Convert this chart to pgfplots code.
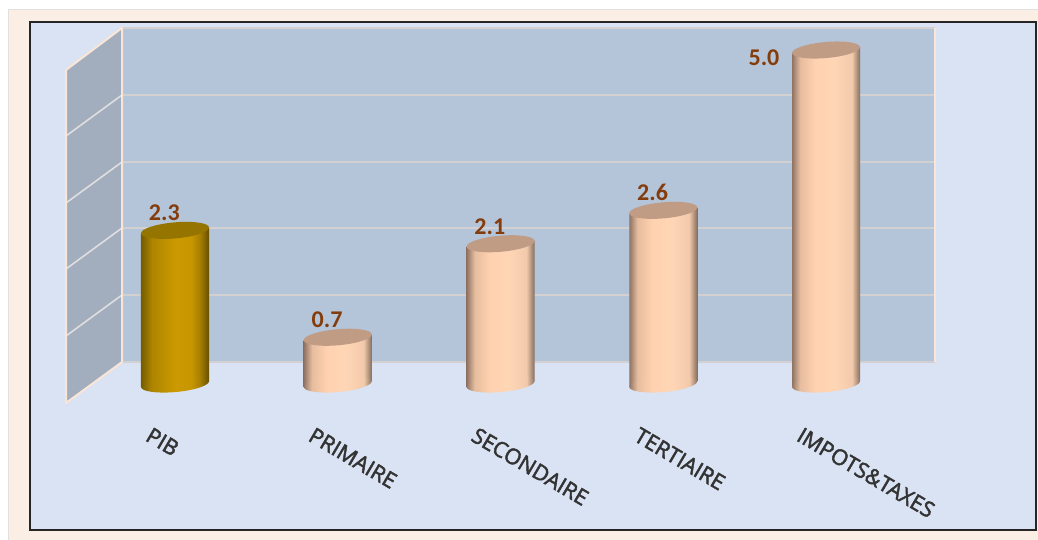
\documentclass[border=0pt]{standalone}
\usepackage{pgfplots}
\pgfplotsset{compat=1.18}
\usepackage{fontspec}
\setmainfont{Carlito}
\newfontfamily\catfont[RawFeature={embolden=2.2}]{Open Sans}
\definecolor{cream}{HTML}{FBEEE4}
\definecolor{panel}{HTML}{DAE3F3}
\definecolor{backwall}{HTML}{B4C4D9}
\definecolor{sidewall}{HTML}{A2ADBD}
\definecolor{wallline}{HTML}{FBE5D6}
\definecolor{gridgrey}{HTML}{D3D0D2}
\definecolor{valuebrown}{HTML}{843C0C}
\definecolor{peachtop}{HTML}{C19C84}
\definecolor{goldtop}{HTML}{957500}

% the path's width is fitted to 25bp..75bp of the shading
\pgfdeclarehorizontalshading{cylpeach}{100bp}{
  rgb(0bp)=(0.56,0.45,0.39);
  rgb(25bp)=(0.56,0.45,0.39);
  rgb(31bp)=(0.90,0.74,0.62);
  rgb(42bp)=(1.0,0.82,0.69);
  rgb(56bp)=(1.0,0.84,0.71);
  rgb(69bp)=(0.95,0.79,0.67);
  rgb(75bp)=(0.52,0.43,0.37);
  rgb(100bp)=(0.52,0.43,0.37)}
\pgfdeclarehorizontalshading{cylgold}{100bp}{
  rgb(0bp)=(0.46,0.36,0.0);
  rgb(25bp)=(0.46,0.36,0.0);
  rgb(33bp)=(0.68,0.52,0.0);
  rgb(50bp)=(0.80,0.60,0.0);
  rgb(62bp)=(0.78,0.59,0.0);
  rgb(68bp)=(0.66,0.50,0.0);
  rgb(75bp)=(0.40,0.31,0.0);
  rgb(100bp)=(0.40,0.31,0.0)}

% tilted ellipses, 1 px = 0.75pt
\newcommand{\cylellipse}{\pgfpathellipse{\pgfpointorigin}{\pgfqpoint{25.5pt}{2.25pt}}{\pgfqpoint{-0.5pt}{6pt}}}
\pgfdeclareplotmark{toppeach}{\cylellipse\pgfsetfillcolor{peachtop}\pgfusepathqfill}
\pgfdeclareplotmark{topgold}{\cylellipse\pgfsetfillcolor{goldtop}\pgfusepathqfill}
\pgfdeclareplotmark{basepeach}{\cylellipse\pgfshadepath{cylpeach}{0}\pgfusepath{discard}}
\pgfdeclareplotmark{basegold}{\cylellipse\pgfshadepath{cylgold}{0}\pgfusepath{discard}}

\begin{document}
\begin{tikzpicture}
\useasboundingbox (0,0) rectangle (778.5pt,404.25pt);
\begin{scope}[x=0.75pt,y=-0.75pt,yshift=404.25pt]
\fill[white] (0,0) rectangle (1038,539);
\fill[cream,draw=black!12,line width=0.75pt] (8,10) rectangle (1040,541);
\fill[panel,draw=black!85,line width=1.5pt] (30,22) rectangle (1036,530);
\fill[backwall] (122,28) rectangle (935,362);
\fill[sidewall] (66,70) -- (122,28) -- (122,362) -- (66,403) -- cycle;
\foreach \y in {28,95,162,228,295} {
  \draw[gridgrey,line width=1.5pt] (122,\y) -- (935,\y);
}
\foreach \y/\z in {95/136,162/203,228/269,295/336} {
  \draw[gridgrey!70!white,line width=1.2pt] (122,\y) -- (66,\z);
}
\draw[gridgrey,line width=1.5pt] (122,362) -- (935,362);
\draw[wallline,line width=1.5pt] (935,28) -- (935,362);
\draw[wallline,line width=1.5pt,line join=round] (122,28) -- (66,70) -- (66,403) -- (122,362) -- cycle;
\end{scope}

\begin{axis}[
  at={(0,0)},anchor=south west,
  scale only axis,
  width=778.5pt,height=404.25pt,
  xmin=-1.0753,xmax=5.3026,
  ymin=-2.320,ymax=5.749,
  clip=false,
  axis line style={draw=none},
  major tick length=0pt,
  ytick=\empty,
  xtick={0,1,2,3,4},
  xticklabels={PIB,PRIMAIRE,SECONDAIRE,TERTIAIRE,IMPOTS\&TAXES},
  xticklabel style={anchor=west,xshift=-23pt,yshift=81pt,rotate=-30.5,
    font=\catfont\fontsize{16.2}{18}\selectfont,text=black!80},
  nodes near coords={\pgfmathprintnumber[fixed,fixed zerofill,precision=1,assume math mode=true]{\pgfplotspointmeta}},
  every node near coord/.style={font=\fontsize{18}{20}\selectfont\bfseries,text=valuebrown,anchor=south,xshift=-8pt,yshift=3.5pt},
]
% cylinder bodies
\addplot[draw=none,shade,shading=cylgold,nodes near coords={}] coordinates {(-0.209,2.255) (0.209,2.345) (0.209,0.045) (-0.209,-0.045)} --cycle;
\addplot[draw=none,shade,shading=cylpeach,nodes near coords={}] coordinates {(0.791,0.655) (1.209,0.745) (1.209,0.045) (0.791,-0.045)} --cycle;
\addplot[draw=none,shade,shading=cylpeach,nodes near coords={}] coordinates {(1.791,2.055) (2.209,2.145) (2.209,0.045) (1.791,-0.045)} --cycle;
\addplot[draw=none,shade,shading=cylpeach,nodes near coords={}] coordinates {(2.791,2.555) (3.209,2.645) (3.209,0.045) (2.791,-0.045)} --cycle;
\addplot[draw=none,shade,shading=cylpeach,nodes near coords={}] coordinates {(3.791,4.955) (4.209,5.045) (4.209,0.045) (3.791,-0.045)} --cycle;
% bases
\addplot[only marks,mark=basegold,nodes near coords={}] coordinates {(0,0)};
\addplot[only marks,mark=basepeach,nodes near coords={}] coordinates {(1,0) (2,0) (3,0) (4,0)};
% tops, with the value labels
\addplot[only marks,mark=topgold] coordinates {(0,2.3)};
\addplot[only marks,mark=toppeach] coordinates {(1,0.7) (2,2.1) (3,2.6)};
\addplot[only marks,mark=toppeach,every node near coord/.append style={xshift=-38.5pt,yshift=-18.5pt}] coordinates {(4,5.0)};
\end{axis}
\end{tikzpicture}
\end{document}
